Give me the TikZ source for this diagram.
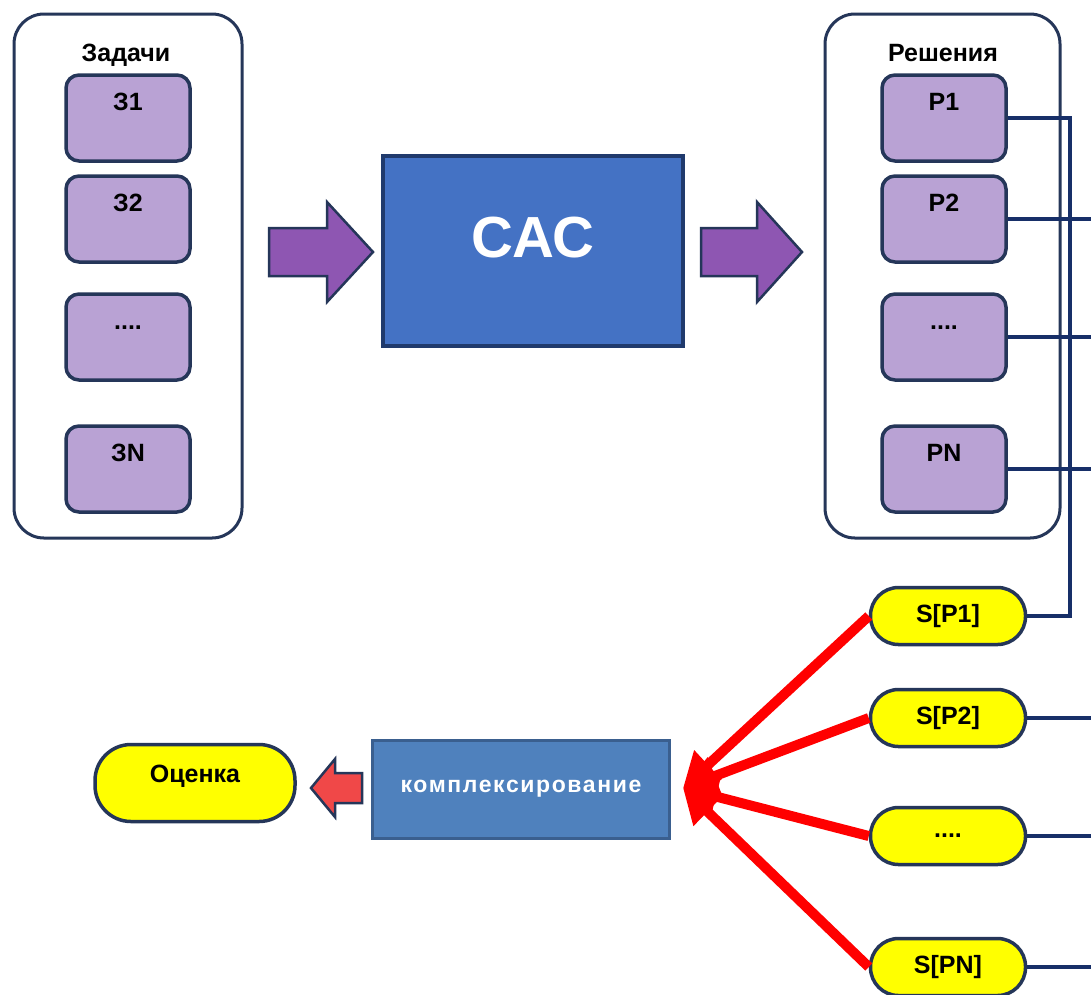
\documentclass[tikz,border=0pt]{standalone}
\usepackage{fontspec}
\setmainfont{Liberation Sans}
\newfontfamily\kfont[LetterSpace=7]{Liberation Sans}
\usetikzlibrary{arrows.meta}
\definecolor{navy}{HTML}{253659}
\definecolor{boxpurple}{HTML}{B9A2D4}
\definecolor{arrpurple}{HTML}{8E56B2}
\definecolor{cacblue}{HTML}{4472C4}
\definecolor{cacborder}{HTML}{203A6C}
\definecolor{kblue}{HTML}{4F81BD}
\definecolor{kborder}{HTML}{3A5F8F}
\definecolor{lineblue}{HTML}{172F68}
\definecolor{redarrow}{HTML}{F04848}
\definecolor{pillyellow}{HTML}{FFFF00}
\begin{document}
\begin{tikzpicture}[x=1pt,y=-1pt,
  container/.style={draw=navy, line width=3pt, rounded corners=30pt, fill=white, inner sep=0pt},
  item/.style={draw=navy, line width=3.5pt, rounded corners=13pt, fill=boxpurple,
     minimum width=124pt, minimum height=86pt, inner sep=0pt},
  itemtext/.style={anchor=base, font=\fontsize{25}{28}\selectfont\bfseries, inner sep=0pt},
  heading/.style={anchor=base, font=\fontsize{25}{28}\selectfont\bfseries, inner sep=0pt},
  pill/.style={draw=navy, line width=3.5pt, rounded corners=28pt, fill=pillyellow,
     minimum width=155pt, minimum height=57pt, inner sep=0pt,
     font=\fontsize{25}{28}\selectfont\bfseries},
  blockarrow/.style={draw=navy, line width=2.5pt, fill=arrpurple, line join=miter},
  wire/.style={draw=lineblue, line width=3.5pt},
  redwire/.style={draw=red, line width=10pt, -{Triangle[width=38pt,length=34pt]}},
]
\useasboundingbox (0,0) rectangle (1091,994);
\fill[white] (0,0) rectangle (1091,994);

% left container
\node[container, minimum width=228pt, minimum height=524pt] (zc) at (128,276) {};
\node[heading] (zh) at (126,61) {Задачи};
\node[item] (z1) at (128,118) {};
\node[item] (z2) at (128,219) {};
\node[item] (z3) at (128,337) {};
\node[item] (z4) at (128,469) {};
\node[itemtext] (z1t) at ([yshift=-37pt]z1.north) {З1};
\node[itemtext] (z2t) at ([yshift=-37pt]z2.north) {З2};
\node[itemtext] (z3t) at ([yshift=-37pt]z3.north) {....};
\node[itemtext] (z4t) at ([yshift=-37pt]z4.north) {ЗN};

% right container
\node[container, minimum width=235pt, minimum height=524pt] (pc) at (942.5,276) {};
\node[heading] (ph) at (943,61) {Решения};
\node[item] (p1) at (944,118) {};
\node[item] (p2) at (944,219) {};
\node[item] (p3) at (944,337) {};
\node[item] (p4) at (944,469) {};
\node[itemtext] (p1t) at ([yshift=-37pt]p1.north) {Р1};
\node[itemtext] (p2t) at ([yshift=-37pt]p2.north) {Р2};
\node[itemtext] (p3t) at ([yshift=-37pt]p3.north) {....};
\node[itemtext] (p4t) at ([yshift=-37pt]p4.north) {РN};

% CAC
\node[draw=cacborder, line width=3.5pt, fill=cacblue, minimum width=300pt, minimum height=190pt,
      inner sep=0pt] (cac) at (533,251) {};
\node[anchor=base, text=white, font=\fontsize{58}{60}\selectfont\bfseries, inner sep=0pt]
      (cact) at (533,257) {САС};

% block arrows
\coordinate (la) at (269,252);
\draw[blockarrow] (la) ++(0,-24) -- ++(58,0) -- ++(0,-26) -- ++(46,50) -- ++(-46,50)
   -- ++(0,-26) -- ++(-58,0) -- cycle;
\coordinate (ra) at (701,252);
\draw[blockarrow] (ra) ++(0,-24) -- ++(56,0) -- ++(0,-26) -- ++(45,50) -- ++(-45,50)
   -- ++(0,-26) -- ++(-56,0) -- cycle;

% S pills
\node[pill] (s1) at (948,616) {S[P1]};
\node[pill] (s2) at (948,718) {S[P2]};
\node[pill] (s3) at (948,836) {....};
\node[pill] (s4) at (948,967) {S[PN]};

% complexing box and result
\node[draw=kborder, line width=3pt, fill=kblue, minimum width=297pt, minimum height=98pt,
      inner sep=0pt, text=white, font=\kfont\fontsize{23}{26}\selectfont\bfseries]
      (k) at (521,789) {комплексирование};
\node[draw=navy, line width=3.5pt, rounded corners=36pt, fill=pillyellow,
      minimum width=200pt, minimum height=77pt, inner sep=0pt] (o) at (195,783) {};
\node[anchor=base, font=\fontsize{25}{28}\selectfont\bfseries, inner sep=0pt] (ot) at (195,782) {Оценка};

% small red arrow
\coordinate (sa) at (311,788);
\draw[draw=navy, line width=2.5pt, fill=redarrow, line join=miter] (sa) -- ++(24,-29) -- ++(0,14)
   -- ++(27,0) -- ++(0,30) -- ++(-27,0) -- ++(0,14) -- cycle;

% wires
\coordinate (bus) at (1070,118);
\coordinate (redge) at (1096,0);
\coordinate (tip) at (683,788);
\draw[wire] (p1.east) -- (bus) |- (s1.east);
\draw[wire] (p2.east) -- (p2.east -| redge);
\draw[wire] (p3.east) -- (p3.east -| redge);
\draw[wire] (p4.east) -- (p4.east -| redge);
\draw[wire] (s2.east) -- (s2.east -| redge);
\draw[wire] (s3.east) -- (s3.east -| redge);
\draw[wire] (s4.east) -- (s4.east -| redge);
\draw[redwire] (s1.west) -- (tip);
\draw[redwire] (s2.west) -- (tip);
\draw[redwire] (s3.west) -- (tip);
\draw[redwire] (s4.west) -- (tip);
\end{tikzpicture}
\end{document}
